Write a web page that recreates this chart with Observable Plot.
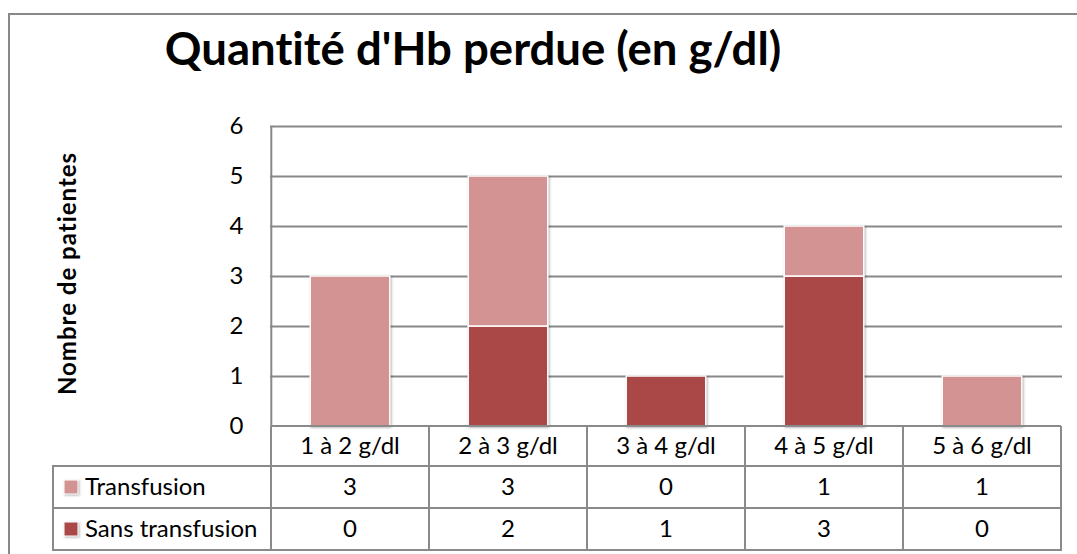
<!DOCTYPE html>
<html>
<head>
<meta charset="utf-8">
<script src="https://cdn.jsdelivr.net/npm/d3@7"></script>
<script src="https://cdn.jsdelivr.net/npm/@observablehq/plot@0.6"></script>
<style>
  html, body { margin: 0; padding: 0; background: #fff; }
  #wrap { position: relative; width: 1077px; height: 554px; overflow: hidden; font-family: Lato, "Open Sans", sans-serif; font-variant-ligatures: none; }
  #wrap svg text { font-variant-ligatures: none; }
  #border { position: absolute; left: 8px; top: 13px; width: 1200px; height: 800px; border-left: 2px solid #888; border-top: 2px solid #888; }
  #title { position: absolute; left: 0; top: 25px; width: 946px; text-align: center; font-weight: bold; font-size: 45.5px; line-height: 45px; color: #000; white-space: nowrap; font-variant-ligatures: none; }
  #wrap svg { position: absolute; left: 0; top: 0; }
</style>
</head>
<body>
<div id="wrap">
  <div id="border"></div>
</div>
<script>
const title = "Quantité d'Hb perdue (en g/dl)";
const yLabel = "Nombre de patientes";
const categories = ["1 à 2 g/dl", "2 à 3 g/dl", "3 à 4 g/dl", "4 à 5 g/dl", "5 à 6 g/dl"];
const seriesNames = ["Transfusion", "Sans transfusion"];
const transfusion = [3, 3, 0, 1, 1];
const sansTransfusion = [0, 2, 1, 3, 0];
const seriesColors = ["#D49393", "#AA4747"];
const yTicks = [0, 1, 2, 3, 4, 5, 6];

// long table for stacking: "Sans transfusion" first -> bottom of stack
const rows = [];
categories.forEach((c, i) => {
  rows.push({cat: c, serie: seriesNames[1], value: sansTransfusion[i]});
  rows.push({cat: c, serie: seriesNames[0], value: transfusion[i]});
});

const W = 1077, H = 554, mL = 270, mR = 15, mT = 126, mB = 128;
const step = (W - mL - mR) / categories.length;
const barW = 80;
const inset = (step - barW) / 2;
const FONT = "Lato, 'Open Sans', sans-serif";

const chart = Plot.plot({
  width: W, height: H,
  marginLeft: mL, marginRight: mR, marginTop: mT, marginBottom: mB,
  style: {fontFamily: FONT, fontSize: "24px", color: "#000", background: "transparent", overflow: "visible"},
  x: {domain: categories, padding: 0, axis: null},
  y: {domain: [0, 6], ticks: yTicks, tickFormat: d => String(d), tickSize: 0, tickPadding: 27, label: null},
  color: {domain: seriesNames, range: seriesColors},
  marks: [
    Plot.gridY(yTicks.filter(v => v > 0), {stroke: "#888", strokeOpacity: 1, strokeWidth: 2}),
    Plot.ruleX([categories[0]], {y1: 0, y2: 6, dx: -step / 2, stroke: "#888", strokeWidth: 2}),
    Plot.barY(rows, {x: "cat", y: "value", fill: "serie", stroke: "white", strokeWidth: 1.5, insetLeft: inset, insetRight: inset}),
    Plot.text([yLabel], {frameAnchor: "left", textAnchor: "middle", rotate: -90, dx: -202, dy: -3, fontWeight: "bold", fontSize: 24})
  ]
});
document.getElementById("wrap").appendChild(chart);
d3.select(chart).selectAll("g[aria-label='bar']").style("filter", "drop-shadow(1px 1px 1.2px rgba(0,0,0,0.3))");
d3.select(chart).selectAll("g[aria-label='text'] text").style("letter-spacing", "1px");

const titleDiv = document.createElement("div");
titleDiv.id = "title";
titleDiv.textContent = title;
document.getElementById("wrap").appendChild(titleDiv);

// data table drawn on the plot's own x/y scales
const xs = chart.scale("x"), ys = chart.scale("y");
const bw = xs.bandwidth;
const edges = categories.map(c => xs.apply(c));
edges.push(edges[edges.length - 1] + bw);
const y0 = ys.apply(0);
const headerH = 40, rowH = 42, tableLeft = 53;
const yEnd = y0 + headerH + 2 * rowH;
const svg = d3.select(chart);
const tg = svg.append("g").attr("aria-label", "data table");
const lines = tg.append("g").attr("stroke", "#8a8a8a").attr("stroke-width", 2);
edges.forEach(e => lines.append("line").attr("x1", e).attr("x2", e).attr("y1", y0).attr("y2", yEnd));
lines.append("line").attr("x1", tableLeft).attr("x2", tableLeft).attr("y1", y0 + headerH).attr("y2", yEnd);
lines.append("line").attr("x1", edges[0]).attr("x2", edges[edges.length - 1]).attr("y1", y0).attr("y2", y0);
[y0 + headerH, y0 + headerH + rowH, yEnd].forEach(y =>
  lines.append("line").attr("x1", tableLeft - 1).attr("x2", edges[edges.length - 1] + 1).attr("y1", y).attr("y2", y));

const txt = tg.append("g").attr("font-family", FONT).attr("font-size", 24).attr("fill", "#000");
categories.forEach((c, i) => {
  const cx = edges[i] + bw / 2;
  txt.append("text").attr("x", cx).attr("y", y0 + headerH / 2).attr("dy", "0.35em").attr("text-anchor", "middle").text(c);
  txt.append("text").attr("x", cx).attr("y", y0 + headerH + rowH / 2).attr("dy", "0.35em").attr("text-anchor", "middle").text(transfusion[i]);
  txt.append("text").attr("x", cx).attr("y", y0 + headerH + rowH * 1.5).attr("dy", "0.35em").attr("text-anchor", "middle").text(sansTransfusion[i]);
});
seriesNames.forEach((s, k) => {
  const cy = y0 + headerH + rowH * (k + 0.5);
  tg.append("rect").attr("x", 64).attr("y", cy - 7).attr("width", 14).attr("height", 14)
    .attr("fill", seriesColors[k]).attr("stroke", "#fff").attr("stroke-width", 1)
    .style("filter", "drop-shadow(1px 1px 0.8px rgba(0,0,0,0.3))");
  txt.append("text").attr("x", 85).attr("y", cy).attr("dy", "0.35em").attr("text-anchor", "start").text(s);
});
</script>
</body>
</html>
